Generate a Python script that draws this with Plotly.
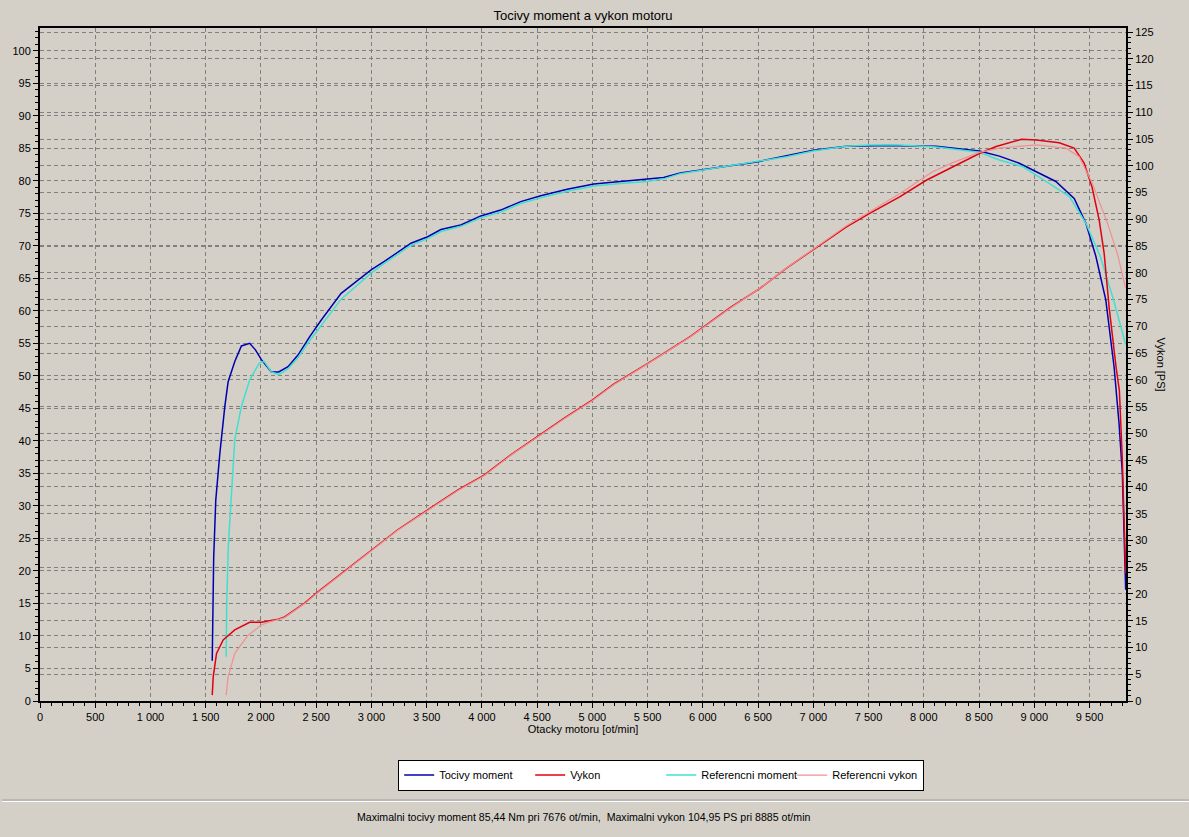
import plotly.graph_objects as go

# Tocivy moment [Nm] (leva osa)
torque_rpm = [1559, 1562, 1572, 1591, 1628, 1673, 1703, 1763, 1823, 1898, 1950, 2004,
              2094, 2160, 2245, 2335, 2440, 2546, 2726, 2997, 3117, 3358, 3509, 3629,
              3809, 3990, 4170, 4351, 4532, 4772, 5013, 5254, 5495, 5645, 5795, 5976,
              6247, 6487, 6758, 6999, 7300, 7510, 7676, 7781, 8112, 8503, 8684, 8864,
              9045, 9195, 9361, 9466, 9557, 9647, 9722, 9752, 9767, 9797, 9812, 9827]
torque_nm = [6.2, 13.5, 22.0, 30.9, 38.1, 45.3, 49.1, 52.2, 54.6, 55.0, 54.0, 52.5,
             50.6, 50.6, 51.4, 53.2, 56.0, 58.6, 62.7, 66.3, 67.6, 70.4, 71.4, 72.5,
             73.2, 74.6, 75.5, 76.8, 77.7, 78.7, 79.5, 79.9, 80.3, 80.5, 81.2, 81.6,
             82.3, 82.9, 83.8, 84.7, 85.3, 85.4, 85.44, 85.4, 85.3, 84.6, 83.8, 82.7,
             81.2, 79.9, 77.3, 73.5, 68.4, 61.7, 51.4, 46.3, 42.7, 35.0, 27.3, 17.1]

# Vykon [PS] (prava osa)
power_rpm = [1559, 1568, 1598, 1658, 1763, 1898, 2004, 2155, 2214, 2305, 2395, 2516,
             2787, 2997, 3238, 3509, 3780, 4020, 4261, 4502, 4742, 4998, 5193, 5495,
             5885, 6247, 6517, 6758, 6999, 7300, 7510, 7781, 8022, 8262, 8503, 8654,
             8774, 8885, 9018, 9225, 9361, 9451, 9523, 9587, 9632, 9677, 9740, 9770,
             9795, 9812, 9827]
power_ps = [1.1, 4.5, 8.9, 11.4, 13.3, 14.7, 14.7, 15.3, 15.7, 17.0, 18.3, 20.4,
            24.8, 28.2, 32.0, 35.7, 39.4, 42.2, 46.0, 49.4, 52.8, 56.2, 59.2, 63.0,
            68.1, 73.5, 77.1, 80.9, 84.3, 88.6, 91.1, 94.2, 97.3, 99.8, 102.3, 103.6,
            104.3, 104.95, 104.8, 104.3, 103.3, 100.5, 96.0, 89.9, 83.7, 73.6, 62.4, 58.0,
            46.0, 35.1, 23.9]

# Referencni moment [Nm]
ref_torque_rpm = [1685, 1690, 1705, 1727, 1763, 1823, 1898, 1986, 2030, 2094, 2160, 2245,
                  2335, 2440, 2546, 2726, 2997, 3117, 3358, 3509, 3629, 3809, 3990, 4170,
                  4351, 4532, 4772, 5013, 5254, 5495, 5645, 5795, 5976, 6247, 6487, 6758,
                  6999, 7300, 7510, 7781, 8112, 8503, 8684, 8894, 9105, 9316, 9466, 9597,
                  9717, 9827]
ref_torque_nm = [6.8, 15.0, 24.0, 30.9, 40.2, 45.3, 49.4, 52.0, 52.2, 50.6, 50.2, 51.1,
                 52.8, 55.4, 57.8, 61.8, 65.8, 67.3, 70.1, 71.1, 72.2, 73.0, 74.3, 75.2,
                 76.5, 77.4, 78.4, 79.2, 79.6, 79.9, 80.3, 81.1, 81.6, 82.3, 82.9, 83.7,
                 84.6, 85.3, 85.5, 85.5, 85.2, 84.4, 83.2, 82.2, 79.9, 77.6, 73.5, 68.4,
                 61.7, 54.8]

# Referencni vykon [PS]
ref_power_rpm = [1685, 1703, 1763, 1884, 2004, 2064, 2155, 2214, 2305, 2395, 2516, 2787,
                 2997, 3238, 3509, 3780, 4020, 4261, 4502, 4742, 4998, 5193, 5495, 5885,
                 6247, 6517, 6758, 6999, 7300, 7510, 7781, 8079, 8262, 8503, 8684, 9015,
                 9286, 9406, 9526, 9662, 9752, 9827]
ref_power_ps = [1.1, 4.5, 8.9, 12.3, 14.2, 14.7, 15.2, 15.6, 16.9, 18.2, 20.3, 24.7,
                28.1, 31.9, 35.6, 39.3, 42.1, 45.9, 49.3, 52.7, 56.1, 59.1, 62.9, 68.0,
                73.4, 77.1, 80.9, 84.4, 88.8, 91.4, 94.8, 98.9, 100.6, 102.5, 103.3, 103.9,
                103.3, 101.7, 96.7, 89.3, 83.6, 77.1]

BG = "#D4D0C8"
GRID = "#808080"
FONT = "Liberation Sans"

fig = go.Figure()
fig.add_trace(go.Scatter(x=torque_rpm, y=torque_nm, name="Tocivy moment",
                         mode="lines", line=dict(color="#0000B0", width=1.5)))
fig.add_trace(go.Scatter(x=power_rpm, y=power_ps, name="Vykon", yaxis="y2",
                         mode="lines", line=dict(color="#E00010", width=1.5)))
fig.add_trace(go.Scatter(x=ref_torque_rpm, y=ref_torque_nm, name="Referencni moment",
                         mode="lines", line=dict(color="#40E0D0", width=1.5)))
fig.add_trace(go.Scatter(x=ref_power_rpm, y=ref_power_ps, name="Referencni vykon", yaxis="y2",
                         mode="lines", line=dict(color="#F09090", width=1.2)))

axis_common = dict(
    showline=True, linecolor="black", linewidth=2,
    ticks="outside", ticklen=5, tickcolor="black",
    showgrid=True, gridcolor=GRID, griddash="4px,3px", gridwidth=1,
    zeroline=False, tickfont=dict(size=11, color="black"),
)

fig.update_layout(
    width=1189, height=837,
    paper_bgcolor=BG, plot_bgcolor=BG,
    font=dict(family=FONT, size=11, color="black"),
    separators=", ",
    margin=dict(l=38, r=63, t=28, b=136),
    title=dict(text="Tocivy moment a vykon motoru", x=0.5, xref="paper",
               y=1 - 15 / 837, yref="container", yanchor="middle",
               font=dict(size=13, color="black")),
    xaxis=dict(axis_common, range=[0, 9830], dtick=500, tickformat=",d", mirror=True,
               minor=dict(dtick=100, ticks="outside", ticklen=3, tickcolor="black", showgrid=False),
               title=dict(text="Otacky motoru [ot/min]", standoff=2, font=dict(size=11))),
    yaxis=dict(axis_common, range=[0, 103.5], dtick=5,
               minor=dict(dtick=1, ticks="outside", ticklen=3, tickcolor="black", showgrid=False)),
    yaxis2=dict(axis_common, range=[0, 125.75], dtick=5, overlaying="y", side="right",
                minor=dict(dtick=1, ticks="outside", ticklen=3, tickcolor="black", showgrid=False)),
    legend=dict(orientation="h", x=0.572, xanchor="center", y=-0.11, yanchor="middle",
                bgcolor="white", bordercolor="black", borderwidth=1,
                font=dict(size=11), itemwidth=30, entrywidth=86, entrywidthmode="pixels",
                tracegroupgap=0),
    showlegend=True,
)

# Right axis title, rotated clockwise
fig.add_annotation(text="Vykon [PS]", textangle=90, xref="paper", yref="paper",
                   x=(1170 - 38) / 1088, y=0.5, showarrow=False, font=dict(size=11))

# Etched separator line above the status text
fig.add_shape(type="line", xref="paper", yref="paper", x0=-38 / 1088, x1=(1189 - 38) / 1088,
              y0=(701 - 800) / 673, y1=(701 - 800) / 673, line=dict(color="#A0A0A0", width=1))
fig.add_shape(type="line", xref="paper", yref="paper", x0=-38 / 1088, x1=(1189 - 38) / 1088,
              y0=(701 - 801.5) / 673, y1=(701 - 801.5) / 673, line=dict(color="white", width=1))

fig.add_annotation(
    text="Maximalni tocivy moment 85,44 Nm pri 7676 ot/min,  Maximalni vykon 104,95 PS pri 8885 ot/min",
    xref="paper", yref="paper", x=(582 - 38) / 1088, y=(701 - 825) / 673,
    showarrow=False, font=dict(size=10.6))

# page without body margin so the figure sits at the window origin
fig.write_html("out.html", config={"displayModeBar": False},
               post_script="document.body.style.margin='0';"
                           "document.body.style.background='#D4D0C8';")
